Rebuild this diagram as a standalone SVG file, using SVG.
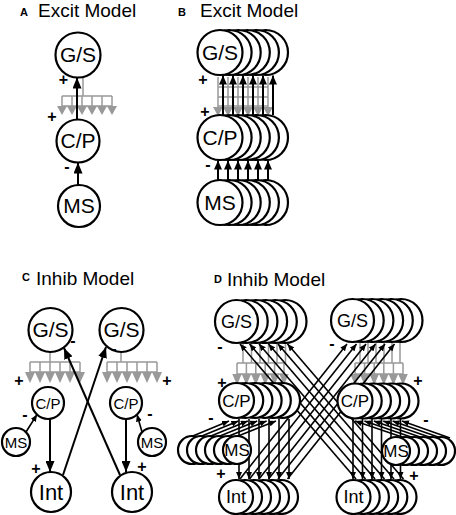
<svg xmlns="http://www.w3.org/2000/svg" width="456" height="515" viewBox="0 0 456 515">
<style>
.n{fill:#fff;stroke:#000;stroke-width:2.2}
.t{font-family:"Liberation Sans",Arial,sans-serif;fill:#000;text-anchor:middle}
.ttl{font-family:"Liberation Sans",Arial,sans-serif;font-size:19px;fill:#000}
.lbl{font-family:"Liberation Sans",Arial,sans-serif;font-weight:bold;font-size:11px;fill:#000}
.s{font-family:"Liberation Sans",Arial,sans-serif;font-size:16px;font-weight:bold;text-anchor:middle;fill:#000}
.a{stroke:#000;stroke-width:2;fill:none}
.as{stroke:#000;stroke-width:1.6;fill:none}
.g{stroke:#999;stroke-width:1.5;fill:none}
.gt{fill:#999;stroke:none}
</style>
<defs>
<marker id="ah" viewBox="0 0 10 10" refX="10" refY="5" markerWidth="11" markerHeight="9" markerUnits="userSpaceOnUse" orient="auto" preserveAspectRatio="none"><path d="M0,0L10,5L0,10z" fill="#000"/></marker>
<marker id="am" viewBox="0 0 10 10" refX="10" refY="5" markerWidth="9" markerHeight="8" markerUnits="userSpaceOnUse" orient="auto" preserveAspectRatio="none"><path d="M0,0L10,5L0,10z" fill="#000"/></marker>
<marker id="as" viewBox="0 0 10 10" refX="10" refY="5" markerWidth="7" markerHeight="6" markerUnits="userSpaceOnUse" orient="auto" preserveAspectRatio="none"><path d="M0,0L10,5L0,10z" fill="#000"/></marker>
</defs>

<!-- Titles -->
<g id="titles">
<text class="lbl" x="20" y="16">A</text><text class="ttl" x="38" y="17">Excit Model</text>
<text class="lbl" x="178" y="16">B</text><text class="ttl" x="200" y="17">Excit Model</text>
<text class="lbl" x="22" y="281">C</text><text class="ttl" x="36" y="285">Inhib Model</text>
<text class="lbl" x="214" y="283">D</text><text class="ttl" x="227" y="286">Inhib Model</text>
</g>

<!-- Gray combs -->
<g id="combs">
<g id="combA">
<path class="g" d="M83,77V96M62,96H112M62,96V106M72,96V106M82,96V106M92,96V106M102,96V106M112,96V106M62,106H112"/>
<path class="gt" d="M57,106H117L112,115L107,106L102,115L97,106L92,115L87,106L82,115L77,106L72,115L67,106L62,115z"/>
</g>
<g id="combB">
<path class="g" d="M218,77V107M228,77V107M238,77V107M248,77V107M258,77V107M268,77V107M218,87H268M218,97H268M218,106H268"/>
<path class="gt" d="M213,107H273L268,116L263,107L258,116L253,107L248,116L243,107L238,116L233,107L228,116L223,107L218,116z"/>
</g>
<g id="combC1">
<path class="g" d="M50,352V362M30,362H80M30,362V372M40,362V372M50,362V372M60,362V372M70,362V372M80,362V372M30,372H80"/>
<path class="gt" d="M25,372H85L80,383L75,372L70,383L65,372L60,383L55,372L50,383L45,372L40,383L35,372L30,383z"/>
</g>
<g id="combC2">
<path class="g" d="M121,352V362M107,362H157M107,362V372M117,362V372M127,362V372M137,362V372M147,362V372M157,362V372M107,372H157"/>
<path class="gt" d="M102,372H162L157,383L152,372L147,383L142,372L137,383L132,372L127,383L122,372L117,383L112,372L107,383z"/>
</g>
<g id="combD1">
<path class="g" d="M243,343V363M251.5,343V363M260,343V363M268.5,343V363M277,343V363M285.5,343V363M237,363H284M237,363V374M246.4,363V374M255.8,363V374M265.2,363V374M274.6,363V374M284,363V374M237,374H284"/>
<path class="gt" d="M232.3,374H288.7L284,385L279.3,374L274.6,385L269.9,374L265.2,385L260.5,374L255.8,385L251.1,374L246.4,385L241.7,374L237,385z"/>
</g>
<g id="combD2">
<path class="g" d="M360,343V363M368,343V363M376,343V363M384,343V363M392,343V363M400,343V363M355,363H403M355,363V374M364.6,363V374M374.2,363V374M383.8,363V374M393.4,363V374M403,363V374M355,374H403"/>
<path class="gt" d="M350.2,374H407.8L403,385L398.2,374L393.4,385L388.6,374L383.8,385L379,374L374.2,385L369.4,374L364.6,385L359.8,374L355,385z"/>
</g>
</g>

<!-- Connectors -->
<g id="connectors">
<g id="connA">
<line class="a" x1="77" y1="119.5" x2="77" y2="77.5" marker-end="url(#ah)"/>
<line class="a" x1="78" y1="185" x2="78" y2="162.5" marker-end="url(#ah)"/>
</g>
<g id="connB">
<line class="a" x1="223" y1="115" x2="223" y2="75.5" marker-end="url(#am)"/>
<line class="a" x1="233" y1="115" x2="233" y2="75.5" marker-end="url(#am)"/>
<line class="a" x1="243" y1="115" x2="243" y2="75.5" marker-end="url(#am)"/>
<line class="a" x1="253" y1="115" x2="253" y2="75.5" marker-end="url(#am)"/>
<line class="a" x1="263" y1="115" x2="263" y2="75.5" marker-end="url(#am)"/>
<line class="a" x1="273" y1="115" x2="273" y2="75.5" marker-end="url(#am)"/>
<line class="a" x1="218" y1="180" x2="218" y2="160.5" marker-end="url(#am)"/>
<line class="a" x1="228" y1="180" x2="228" y2="160.5" marker-end="url(#am)"/>
<line class="a" x1="238" y1="180" x2="238" y2="160.5" marker-end="url(#am)"/>
<line class="a" x1="248" y1="180" x2="248" y2="160.5" marker-end="url(#am)"/>
<line class="a" x1="258" y1="180" x2="258" y2="160.5" marker-end="url(#am)"/>
<line class="a" x1="268" y1="180" x2="268" y2="160.5" marker-end="url(#am)"/>
</g>
<g id="connC">
<line class="a" x1="50" y1="419" x2="50" y2="472" marker-end="url(#ah)"/>
<line class="a" x1="126" y1="419" x2="126" y2="472" marker-end="url(#ah)"/>
<line class="a" x1="63" y1="475" x2="106" y2="347" marker-end="url(#ah)"/>
<line class="a" x1="120" y1="475" x2="64" y2="348" marker-end="url(#ah)"/>
<line class="as" x1="26" y1="432" x2="37" y2="414.5" marker-end="url(#as)"/>
<line class="as" x1="142" y1="432" x2="137" y2="414.5" marker-end="url(#as)"/>
</g>
<g id="connD">
<line class="as" x1="239" y1="419" x2="239" y2="479" marker-end="url(#as)"/>
<line class="as" x1="249" y1="419" x2="249" y2="479" marker-end="url(#as)"/>
<line class="as" x1="259" y1="419" x2="259" y2="479" marker-end="url(#as)"/>
<line class="as" x1="269" y1="419" x2="269" y2="479" marker-end="url(#as)"/>
<line class="as" x1="279" y1="419" x2="279" y2="479" marker-end="url(#as)"/>
<line class="as" x1="289" y1="419" x2="289" y2="479" marker-end="url(#as)"/>
<line class="as" x1="353" y1="419" x2="353" y2="479" marker-end="url(#as)"/>
<line class="as" x1="362.5" y1="419" x2="362.5" y2="479" marker-end="url(#as)"/>
<line class="as" x1="372" y1="419" x2="372" y2="479" marker-end="url(#as)"/>
<line class="as" x1="381.5" y1="419" x2="381.5" y2="479" marker-end="url(#as)"/>
<line class="as" x1="391" y1="419" x2="391" y2="479" marker-end="url(#as)"/>
<line class="as" x1="400.5" y1="419" x2="400.5" y2="479" marker-end="url(#as)"/>
<line class="as" x1="240" y1="479" x2="347" y2="344" marker-end="url(#as)"/>
<line class="as" x1="249.5" y1="479" x2="356.5" y2="344" marker-end="url(#as)"/>
<line class="as" x1="259" y1="479" x2="366" y2="344" marker-end="url(#as)"/>
<line class="as" x1="268.5" y1="479" x2="375.5" y2="344" marker-end="url(#as)"/>
<line class="as" x1="278" y1="479" x2="385" y2="344" marker-end="url(#as)"/>
<line class="as" x1="287.5" y1="479" x2="394.5" y2="344" marker-end="url(#as)"/>
<line class="as" x1="356" y1="479" x2="240" y2="344" marker-end="url(#as)"/>
<line class="as" x1="365.5" y1="479" x2="249.5" y2="344" marker-end="url(#as)"/>
<line class="as" x1="375" y1="479" x2="259" y2="344" marker-end="url(#as)"/>
<line class="as" x1="384.5" y1="479" x2="268.5" y2="344" marker-end="url(#as)"/>
<line class="as" x1="394" y1="479" x2="278" y2="344" marker-end="url(#as)"/>
<line class="as" x1="403.5" y1="479" x2="287.5" y2="344" marker-end="url(#as)"/>
<line class="as" x1="188" y1="438" x2="229" y2="421" marker-end="url(#as)"/>
<line class="as" x1="197" y1="438" x2="238.4" y2="421" marker-end="url(#as)"/>
<line class="as" x1="206" y1="438" x2="247.8" y2="421" marker-end="url(#as)"/>
<line class="as" x1="215" y1="438" x2="257.2" y2="421" marker-end="url(#as)"/>
<line class="as" x1="224" y1="438" x2="266.6" y2="421" marker-end="url(#as)"/>
<line class="as" x1="233" y1="438" x2="276" y2="421" marker-end="url(#as)"/>
<line class="as" x1="450" y1="438" x2="402" y2="421" marker-end="url(#as)"/>
<line class="as" x1="441" y1="438" x2="392.6" y2="421" marker-end="url(#as)"/>
<line class="as" x1="432" y1="438" x2="383.2" y2="421" marker-end="url(#as)"/>
<line class="as" x1="423" y1="438" x2="373.8" y2="421" marker-end="url(#as)"/>
<line class="as" x1="414" y1="438" x2="364.4" y2="421" marker-end="url(#as)"/>
<line class="as" x1="405" y1="438" x2="355" y2="421" marker-end="url(#as)"/>
</g>
</g>

<!-- Nodes: panel A -->
<g id="A-GS"><circle class="n" cx="78" cy="55" r="22.5"/><text class="t" x="78" y="62" font-size="21">G/S</text></g>
<g id="A-CP"><circle class="n" cx="78" cy="141" r="21.5"/><text class="t" x="78" y="148" font-size="21">C/P</text></g>
<g id="A-MS"><circle class="n" cx="79" cy="206" r="21"/><text class="t" x="79" y="213" font-size="21">MS</text></g>

<!-- Nodes: panel B -->
<g id="B-GS">
<circle class="n" cx="265.5" cy="52.5" r="22.5"/><circle class="n" cx="256.4" cy="52.5" r="22.5"/><circle class="n" cx="247.3" cy="52.5" r="22.5"/><circle class="n" cx="238.2" cy="52.5" r="22.5"/><circle class="n" cx="229.1" cy="52.5" r="22.5"/><circle class="n" cx="220" cy="52.5" r="22.5"/>
<text class="t" x="220" y="59.5" font-size="21">G/S</text></g>
<g id="B-CP">
<circle class="n" cx="265.5" cy="137.5" r="22.5"/><circle class="n" cx="256.4" cy="137.5" r="22.5"/><circle class="n" cx="247.3" cy="137.5" r="22.5"/><circle class="n" cx="238.2" cy="137.5" r="22.5"/><circle class="n" cx="229.1" cy="137.5" r="22.5"/><circle class="n" cx="220" cy="137.5" r="22.5"/>
<text class="t" x="220" y="144.5" font-size="21">C/P</text></g>
<g id="B-MS">
<circle class="n" cx="265.5" cy="202.5" r="22.5"/><circle class="n" cx="256.4" cy="202.5" r="22.5"/><circle class="n" cx="247.3" cy="202.5" r="22.5"/><circle class="n" cx="238.2" cy="202.5" r="22.5"/><circle class="n" cx="229.1" cy="202.5" r="22.5"/><circle class="n" cx="220" cy="202.5" r="22.5"/>
<text class="t" x="220" y="209.5" font-size="21">MS</text></g>

<!-- Nodes: panel C -->
<g id="C-GS1"><circle class="n" cx="50.5" cy="330" r="22"/><text class="t" x="50.5" y="337" font-size="21">G/S</text></g>
<g id="C-GS2"><circle class="n" cx="121.5" cy="330" r="22"/><text class="t" x="121.5" y="337" font-size="21">G/S</text></g>
<g id="C-CP1"><circle class="n" cx="48" cy="403" r="16"/><text class="t" x="48" y="408.5" font-size="15">C/P</text></g>
<g id="C-CP2"><circle class="n" cx="126" cy="403" r="16"/><text class="t" x="126" y="408.5" font-size="15">C/P</text></g>
<g id="C-MS1"><circle class="n" cx="16" cy="442" r="14"/><text class="t" x="16" y="447.5" font-size="15">MS</text></g>
<g id="C-MS2"><circle class="n" cx="152" cy="442" r="14"/><text class="t" x="152" y="447.5" font-size="15">MS</text></g>
<g id="C-Int1"><circle class="n" cx="51" cy="492" r="20"/><text class="t" x="51" y="499.5" font-size="22">Int</text></g>
<g id="C-Int2"><circle class="n" cx="132" cy="492" r="20"/><text class="t" x="132" y="499.5" font-size="22">Int</text></g>

<!-- Nodes: panel D -->
<g id="D-GS1">
<circle class="n" cx="285" cy="321.5" r="21.5"/><circle class="n" cx="275.3" cy="321.5" r="21.5"/><circle class="n" cx="265.6" cy="321.5" r="21.5"/><circle class="n" cx="255.9" cy="321.5" r="21.5"/><circle class="n" cx="246.2" cy="321.5" r="21.5"/><circle class="n" cx="236.5" cy="321.5" r="21.5"/>
<text class="t" x="236.5" y="327.5" font-size="18">G/S</text></g>
<g id="D-GS2">
<circle class="n" cx="401" cy="320.5" r="21.5"/><circle class="n" cx="391.3" cy="320.5" r="21.5"/><circle class="n" cx="381.6" cy="320.5" r="21.5"/><circle class="n" cx="371.9" cy="320.5" r="21.5"/><circle class="n" cx="362.2" cy="320.5" r="21.5"/><circle class="n" cx="352.5" cy="320.5" r="21.5"/>
<text class="t" x="352.5" y="326.5" font-size="18">G/S</text></g>
<g id="D-CP1">
<circle class="n" cx="282.5" cy="400.5" r="17.5"/><circle class="n" cx="273.3" cy="400.5" r="17.5"/><circle class="n" cx="264.1" cy="400.5" r="17.5"/><circle class="n" cx="254.9" cy="400.5" r="17.5"/><circle class="n" cx="245.7" cy="400.5" r="17.5"/><circle class="n" cx="236.5" cy="400.5" r="17.5"/>
<text class="t" x="236.5" y="406.5" font-size="17">C/P</text></g>
<g id="D-CP2">
<circle class="n" cx="401" cy="401" r="17.5"/><circle class="n" cx="391.8" cy="401" r="17.5"/><circle class="n" cx="382.6" cy="401" r="17.5"/><circle class="n" cx="373.4" cy="401" r="17.5"/><circle class="n" cx="364.2" cy="401" r="17.5"/><circle class="n" cx="355" cy="401" r="17.5"/>
<text class="t" x="355" y="407" font-size="17">C/P</text></g>
<g id="D-MS1">
<circle class="n" cx="192" cy="450" r="14"/><circle class="n" cx="201" cy="450" r="14"/><circle class="n" cx="210" cy="450" r="14"/><circle class="n" cx="219" cy="450" r="14"/><circle class="n" cx="228" cy="450" r="14"/><circle class="n" cx="237" cy="450" r="14"/>
<text class="t" x="237" y="456" font-size="17">MS</text></g>
<g id="D-MS2">
<circle class="n" cx="441" cy="451" r="14"/><circle class="n" cx="432" cy="451" r="14"/><circle class="n" cx="423" cy="451" r="14"/><circle class="n" cx="414" cy="451" r="14"/><circle class="n" cx="405" cy="451" r="14"/><circle class="n" cx="396" cy="451" r="14"/>
<text class="t" x="396" y="457" font-size="17">MS</text></g>
<g id="D-Int1">
<circle class="n" cx="281" cy="497" r="17"/><circle class="n" cx="272" cy="497" r="17"/><circle class="n" cx="263" cy="497" r="17"/><circle class="n" cx="254" cy="497" r="17"/><circle class="n" cx="245" cy="497" r="17"/><circle class="n" cx="236" cy="497" r="17"/>
<text class="t" x="236" y="503" font-size="18">Int</text></g>
<g id="D-Int2">
<circle class="n" cx="399.5" cy="497" r="17"/><circle class="n" cx="390.3" cy="497" r="17"/><circle class="n" cx="381.1" cy="497" r="17"/><circle class="n" cx="371.9" cy="497" r="17"/><circle class="n" cx="362.7" cy="497" r="17"/><circle class="n" cx="353.5" cy="497" r="17"/>
<text class="t" x="353.5" y="503" font-size="18">Int</text></g>

<!-- Signs -->
<g id="signs">
<text class="s" x="63.5" y="85">+</text><text class="s" x="52" y="122">+</text><text class="s" x="67" y="172">-</text>
<text class="s" x="203" y="85">+</text><text class="s" x="205" y="117">+</text><text class="s" x="208" y="170">-</text>
<text class="s" x="73" y="346">-</text><text class="s" x="114" y="354">-</text>
<text class="s" x="19" y="386">+</text><text class="s" x="167" y="386">+</text>
<text class="s" x="25" y="420">-</text><text class="s" x="150" y="419">-</text>
<text class="s" x="36" y="474">+</text><text class="s" x="142" y="472">+</text>
<text class="s" x="220" y="352">-</text><text class="s" x="332" y="349">-</text>
<text class="s" x="222" y="388">+</text><text class="s" x="418" y="386">+</text>
<text class="s" x="211" y="423">-</text><text class="s" x="426" y="425">-</text>
<text class="s" x="221" y="479">+</text><text class="s" x="414" y="481">+</text>
</g>
</svg>
